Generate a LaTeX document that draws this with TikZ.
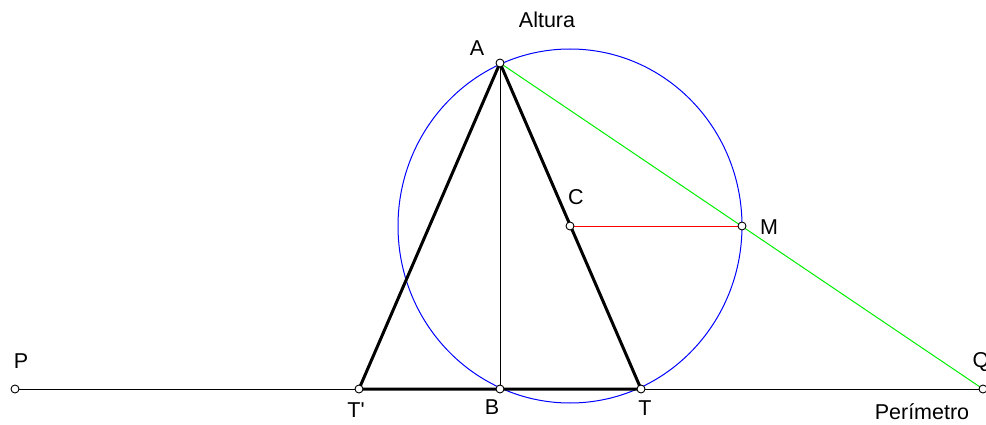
\documentclass[tikz,border=0pt]{standalone}
\usepackage{fontspec}
\setmainfont{Liberation Sans}
\usepackage{tikz}
\usetikzlibrary{positioning,calc}
\definecolor{circblue}{HTML}{0000FF}
\definecolor{ptgreen}{HTML}{00EE00}
\definecolor{ptred}{HTML}{FF0000}
\tikzset{
  thin line/.style={line width=1pt,draw=black},
  side/.style={line width=3pt,draw=black,line cap=round},
  circ/.style={line width=1pt,draw=circblue},
  grn/.style={line width=1pt,draw=ptgreen},
  rd/.style={line width=1pt,draw=ptred},
  pnt/.style={circle,draw=black,fill=white,line width=0.9pt,inner sep=0pt,minimum size=8pt},
  lbl/.style={font=\fontsize{21.5}{24}\selectfont,inner sep=0pt},
}
\begin{document}
\begin{tikzpicture}[x=1pt,y=-1pt]
  \useasboundingbox (0,0) rectangle (986,425);
  % points
  \coordinate (P) at (15,389);
  \coordinate (Q) at (983,389);
  \coordinate (Tp) at (359,389);
  \coordinate (B) at (500,389);
  \coordinate (T) at (641,389);
  \coordinate (A) at (500,63);
  \coordinate (C) at (570,226);
  \coordinate (M) at (742,226);
  % lines
  \draw[thin line] (P) -- (Q);
  \draw[circ] (C) ellipse [x radius=172, y radius=177];
  \draw[grn] (A) -- (Q);
  \draw[thin line] (A) -- (B);
  \draw[rd] (C) -- (M);
  \draw[side] (Tp) -- (A) -- (T) -- cycle;
  % markers
  \foreach \p in {P,Q,Tp,B,T,A,C,M}
    \node[pnt] at (\p) {};
  % labels
  \node[lbl] (lA) at (477,48) {A};
  \node[lbl] (lAlt) at (547,20) {Altura};
  \node[lbl] (lC) at (576,197) {C};
  \node[lbl] (lM) at (769,227) {M};
  \node[lbl] (lB) at (492,407) {B};
  \node[lbl] (lT) at (645,408) {T};
  \node[lbl] (lTp) at (356,410) {T\textquotesingle};
  \node[lbl] (lP) at (21,361) {P};
  \node[lbl] (lQ) at (981,362) {Q};
  \node[lbl] (lPer) at (922,412) {Perímetro};
\end{tikzpicture}
\end{document}
